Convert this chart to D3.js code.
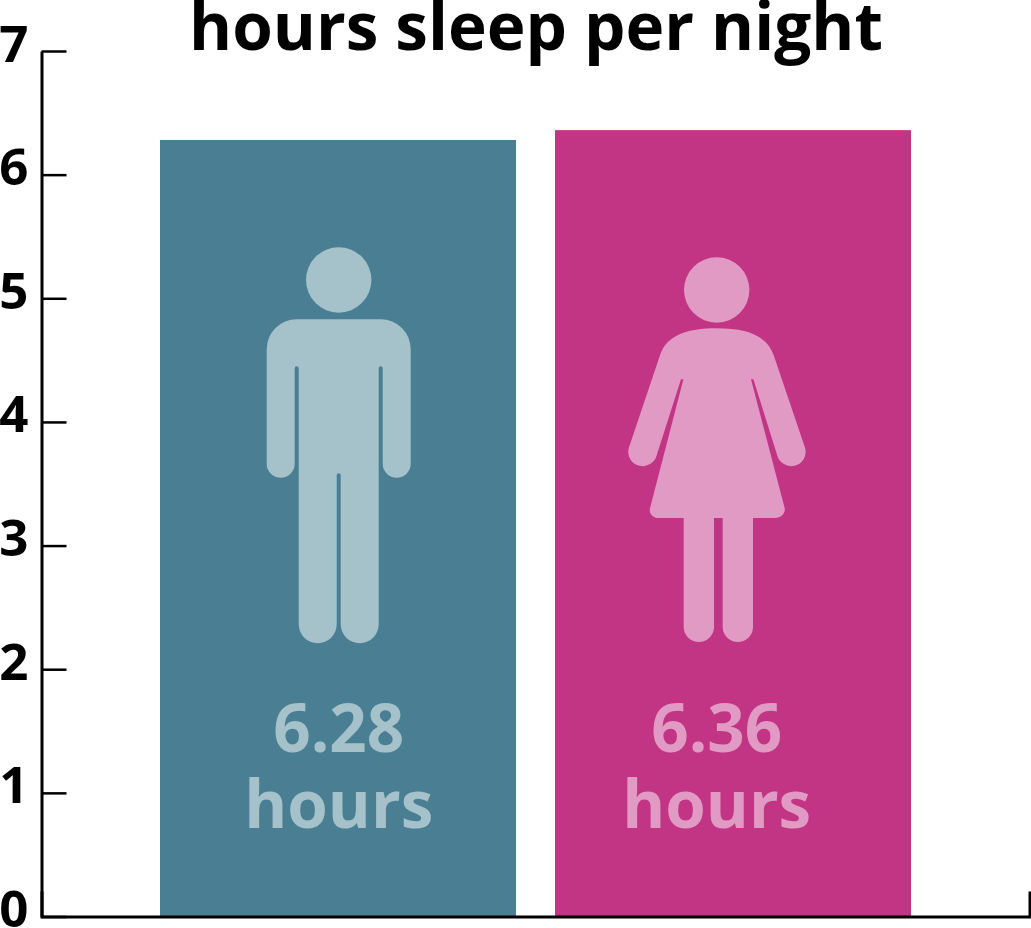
<!DOCTYPE html>
<html>
<head>
<meta charset="utf-8">
<script src="https://cdn.jsdelivr.net/npm/d3@7"></script>
<style>
  html, body { margin: 0; padding: 0; background: #fff; }
  svg { display: block; }
  text { font-family: "Open Sans", sans-serif; font-weight: 700; }
</style>
</head>
<body>
<div id="chart"></div>
<script>
const categories = ['men', 'women'];
const hours = [6.28, 6.36];
const yTicks = [0, 1, 2, 3, 4, 5, 6, 7];
const titleText = 'hours sleep per night';
const unitLabel = 'hours';

const barColors = ['#4a7f93', '#c13584'];
const iconColors = ['#a5c1ca', '#e09ac3'];

// Icons drawn around (0, 0) = centre of the feet.
const MAN_PATH = 'M-42,-324H42A30,30 0 0 1 72,-294V-179.5A14,14 0 0 1 44,-179.5V-275A2,2 0 0 0 40,-275'
  + 'V-19A19,19 0 0 1 2,-19V-168A2,2 0 0 0 -2,-168V-19A19,19 0 0 1 -40,-19V-275A2,2 0 0 0 -44,-275'
  + 'V-179.5A14,14 0 0 1 -72,-179.5V-294A30,30 0 0 1 -42,-324Z';
const WOMAN_PATH = 'M0,-315C30,-315 50,-308 57,-288L88.5,-195A14,14 0 0 1 60.5,-188'
  + 'L36.7,-264H34.3L68,-135C69,-130 64,-125.3 59,-125.3H36.3V-15.2A15.2,15.2 0 0 1 6,-15.2V-125.3H-2.7'
  + 'V-15.2A15.2,15.2 0 0 1 -33,-15.2V-125.3H-58C-64,-125.3 -68,-130 -66.7,-135L-33.3,-264H-35.7L-60,-188'
  + 'A14,14 0 0 1 -88,-195L-56.7,-288C-50,-308 -30,-315 0,-315Z';
const iconPaths = [MAN_PATH, WOMAN_PATH];
const iconHeadY = [-363.3, -353.3];
const FEET_VALUE = 2.21;
// the figures do not sit exactly in the middle of their bars
const figureShift = [0.7, -16.3];

const width = 1031, height = 928;

const x = d3.scaleBand()
  .domain(categories)
  .range([41.5, 1029.5])
  .paddingInner(0.0987)
  .paddingOuter(0.3);

const y = d3.scaleLinear()
  .domain([0, 7])
  .range([916.5, 51]);

const svg = d3.select('#chart').append('svg')
  .attr('width', width)
  .attr('height', height)
  .attr('viewBox', [0, 0, width, height]);

svg.append('text')
  .attr('x', 536)
  .attr('y', 50)
  .attr('text-anchor', 'middle')
  .attr('font-size', 65.6)
  .attr('fill', '#000')
  .text(titleText);

// bars
svg.append('g')
  .selectAll('rect')
  .data(hours)
  .join('rect')
  .attr('x', (d, i) => x(categories[i]))
  .attr('y', d => y(d))
  .attr('width', x.bandwidth())
  .attr('height', d => y(0) - y(d))
  .attr('fill', (d, i) => barColors[i]);

// axes
const yAxis = svg.append('g')
  .attr('transform', `translate(${x.range()[0]},0)`)
  .call(d3.axisLeft(y).tickValues(yTicks).tickSize(-25).tickSizeOuter(0).tickFormat(d3.format('d')));
yAxis.select('.domain').attr('stroke', '#000').attr('stroke-width', 3);
yAxis.selectAll('.tick line').attr('stroke', '#000').attr('stroke-width', 2.5);
yAxis.selectAll('.tick text')
  .attr('x', -13)
  .attr('dy', 10)
  .attr('font-size', 51)
  .attr('font-family', '"Open Sans", sans-serif')
  .attr('font-weight', 800)
  .attr('fill', '#000');

const xAxis = svg.append('g')
  .attr('transform', `translate(0,${y(0)})`)
  .call(d3.axisBottom(x).tickValues([]).tickSizeOuter(-25));
xAxis.select('.domain').attr('stroke', '#000').attr('stroke-width', 3).attr('fill', 'none');

// figures and value labels
const groups = svg.append('g')
  .selectAll('g')
  .data(hours)
  .join('g')
  .attr('transform', (d, i) => `translate(${x(categories[i]) + x.bandwidth() / 2 + figureShift[i]},0)`);

groups.append('circle')
  .attr('cy', (d, i) => y(FEET_VALUE) + iconHeadY[i])
  .attr('r', 32.7)
  .attr('fill', (d, i) => iconColors[i]);

groups.append('path')
  .attr('d', (d, i) => iconPaths[i])
  .attr('transform', `translate(0,${y(FEET_VALUE)})`)
  .attr('fill', (d, i) => iconColors[i]);

groups.append('text')
  .attr('y', 752)
  .attr('text-anchor', 'middle')
  .attr('font-size', 65.5)
  .attr('fill', (d, i) => iconColors[i])
  .text(d => d.toFixed(2));

groups.append('text')
  .attr('y', 828)
  .attr('text-anchor', 'middle')
  .attr('font-size', 65.5)
  .attr('fill', (d, i) => iconColors[i])
  .text(unitLabel);
</script>
</body>
</html>
